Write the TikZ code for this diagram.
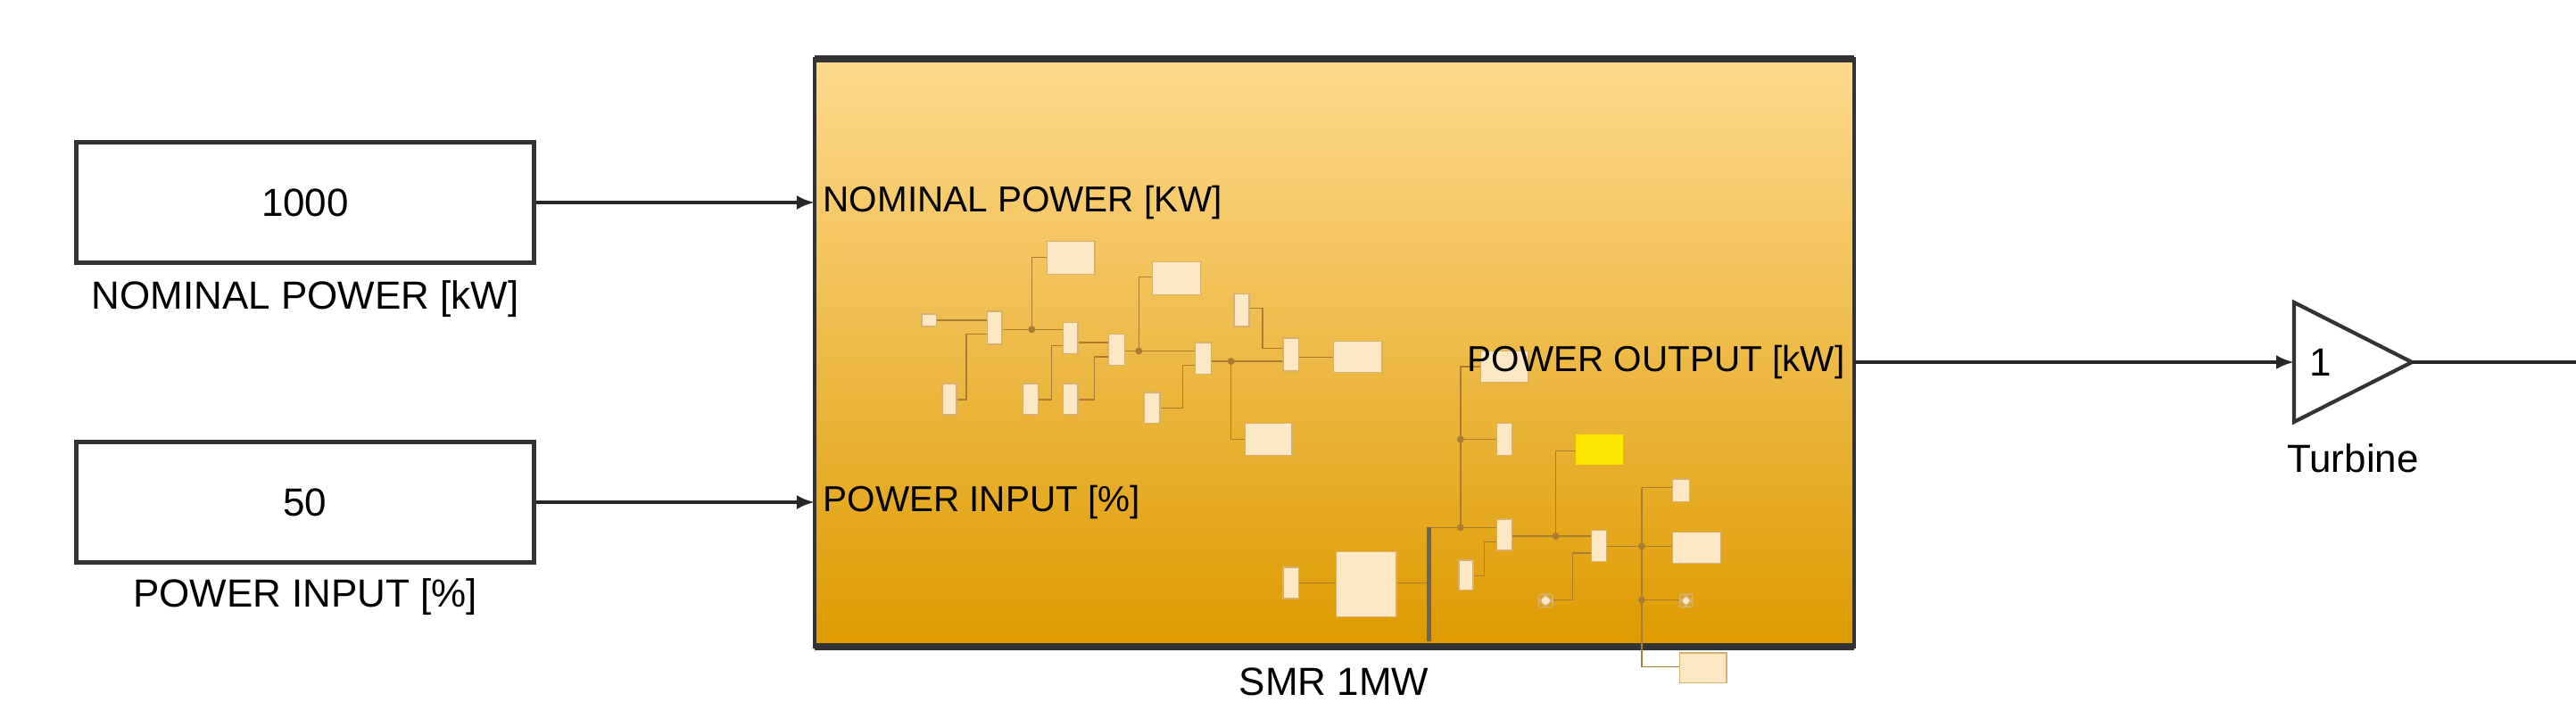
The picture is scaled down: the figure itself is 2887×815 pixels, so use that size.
\documentclass[tikz,border=0pt]{standalone}
\usepackage{fontspec}
\setmainfont{Liberation Sans}
\usetikzlibrary{arrows.meta}
\definecolor{topc}{RGB}{254,218,142}
\definecolor{botc}{RGB}{222,155,0}
\definecolor{minif}{RGB}{252,232,196}
\definecolor{minid}{RGB}{215,175,110}
\definecolor{minil}{RGB}{170,125,50}
\tikzset{
  blk/.style={draw=black!80, line width=1.6pt, fill=white, minimum width=5.13cm, minimum height=1.35cm, font=\fontsize{12.5pt}{14pt}\selectfont},
  lbl/.style={font=\fontsize{12.5pt}{14pt}\selectfont},
  port/.style={font=\fontsize{11.5pt}{13pt}\selectfont, inner sep=0pt},
  sig/.style={line width=1.2pt, draw=black!85, -{Latex[length=0.2cm,width=0.16cm]}},
  mb/.style={draw=minid, fill=minif, line width=0.4pt},
  ml/.style={draw=minil, line width=0.4pt},
  dot/.style={fill=minil, circle, inner sep=0.8pt},
}
\begin{document}
\begin{tikzpicture}[x=0.01cm,y=-0.01cm]
\useasboundingbox (0,0) rectangle (2887,815);
% SMR block
\shade[top color=topc, bottom color=botc] (913,66) rectangle (2078,725);
\draw[black!80, line width=1pt] (913,66) rectangle (2078,725);
\draw[black!80, line width=2.2pt] (913,66) -- (2078,66);
\draw[black!80, line width=2.2pt] (913,725) -- (2078,725);
\node[lbl] (smrl) at (1495,764) {SMR 1MW};
\coordinate (smrW1) at (913,227);
\coordinate (smrW2) at (913,563);
\coordinate (smrE) at (2078,406);
% mini diagram
\begin{scope}[shift={(1000,250)}, x=0.006378cm, y=-0.006378cm]
 \draw[ml] (78,171)--(167,171);
 \draw[ml] (193,187)--(300,187); \draw[ml] (245,187)--(245,60)--(272,60);
 \draw[ml] (113,310)--(130,310)--(130,195)--(167,195);
 \draw[ml] (326,210)--(380,210);
 \draw[ml] (256,310)--(280,310)--(280,215)--(300,215);
 \draw[ml] (326,310)--(355,310)--(355,235)--(380,235);
 \draw[ml] (408,225)--(532,225); \draw[ml] (433,225)--(433,95)--(457,95);
 \draw[ml] (470,325)--(510,325)--(510,250)--(532,250);
 \draw[ml] (560,243)--(686,243); \draw[ml] (595,243)--(595,380)--(620,380);
 \draw[ml] (627,150)--(650,150)--(650,220)--(686,220);
 \draw[ml] (714,236)--(775,236);
 \draw[ml] (714,632)--(780,632); \draw[ml] (885,632)--(938,632);
 \draw[ml] (946,535)--(1062,535); \draw[ml] (998,535)--(998,252)--(1033,252);
 \draw[ml] (998,380)--(1062,380);
 \draw[ml] (1020,620)--(1040,620)--(1040,560)--(1062,560);
 \draw[ml] (1088,550)--(1228,550); \draw[ml] (1165,550)--(1165,400)--(1200,400);
 \draw[ml] (1160,662)--(1195,662)--(1195,580)--(1228,580);
 \draw[ml] (1254,568)--(1370,568); \draw[ml] (1316,465)--(1370,465);
 \draw[ml] (1316,465)--(1316,780)--(1383,780); \draw[ml] (1316,662)--(1383,662);
 \foreach \p in {(245,187),(433,225),(595,243),(998,535),(998,380),(1165,550),(1316,568),(1316,662)} \node[dot] at \p {};
 \foreach \a/\b in {52/160/78/182, 167/155/193/213, 272/32/356/90, 300/175/326/230, 380/195/408/250,
   457/68/541/126, 88/282/113/337, 230/282/256/337, 300/282/326/337, 442/298/470/352,
   532/210/560/266, 600/125/627/182, 686/202/714/260, 775/208/860/262, 620/352/702/408,
   1033/225/1117/280, 1062/352/1088/408, 1370/450/1400/490, 1062/520/1088/575,
   995/592/1020/645, 1228/540/1254/595, 1370/543/1455/598, 1383/755/1465/808,
   686/605/714/660, 780/577/885/692} {}
 \foreach \xa/\ya/\xb/\yb in {52/160/78/182, 167/155/193/213, 272/32/356/90, 300/175/326/230, 380/195/408/250,
   457/68/541/126, 88/282/113/337, 230/282/256/337, 300/282/326/337, 442/298/470/352,
   532/210/560/266, 600/125/627/182, 686/202/714/260, 775/208/860/262, 620/352/702/408,
   1033/225/1117/280, 1062/352/1088/408, 1370/450/1400/490, 1062/520/1088/575,
   995/592/1020/645, 1228/540/1254/595, 1370/543/1455/598, 1383/755/1465/808,
   686/605/714/660, 780/577/885/692}
   \draw[mb] (\xa,\ya) rectangle (\xb,\yb);
 \draw[mb, rounded corners=4pt] (1135,652) rectangle (1160,675);
 \draw[mb, rounded corners=4pt] (1383,652) rectangle (1405,675);
 \fill[black!60] (938,535) rectangle (946,735);
 \fill[yellow!90!orange] (1200,372) rectangle (1283,425);
\end{scope}
\node[port, anchor=west] (p1) at (922,227) {NOMINAL POWER [KW]};
\node[port, anchor=west] (p2) at (922,563) {POWER INPUT [\%]};
\node[port, anchor=east] (p3) at (2068,406) {POWER OUTPUT [kW]};
% constants
\node[blk] (c1) at (342,227) {1000};
\node[lbl] (c1l) at (342,335) {NOMINAL POWER [kW]};
\node[blk] (c2) at (342,563) {50};
\node[lbl] (c2l) at (342,669) {POWER INPUT [\%]};
% gain
\coordinate (gA) at (2571,339);
\coordinate (gB) at (2571,473);
\coordinate (gC) at (2703,406);
\draw[black!80, line width=1.2pt, fill=white] (gA) -- (gC) -- (gB) -- cycle;
\node[lbl, anchor=west] (gl) at (2576,406) {1};
\node[lbl] (tl) at (2637,514) {Turbine};
\coordinate (outE) at (2887,406);
% signals
\draw[sig] (c1.east) -- (smrW1);
\draw[sig] (c2.east) -- (smrW2);
\draw[sig] (smrE) -- (2571,406);
\draw[line width=1.2pt, black!85] (gC) -- (outE);
\end{tikzpicture}
\end{document}
